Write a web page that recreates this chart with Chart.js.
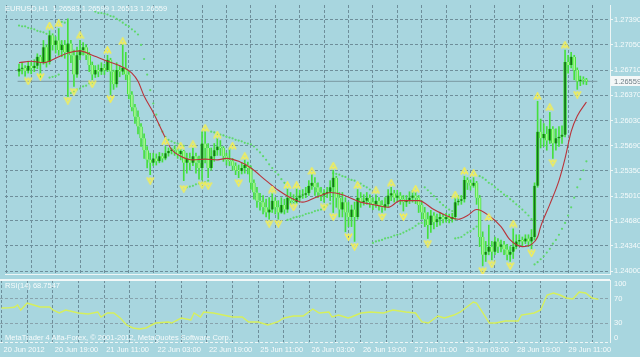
<!DOCTYPE html>
<html>
<head>
<meta charset="utf-8">
<script src="https://cdn.jsdelivr.net/npm/chart.js@4.4.1/dist/chart.umd.min.js"></script>
<style>
  body { margin: 0; background: #a8d6df; }
  #wrap { position: relative; width: 640px; height: 357px; overflow: hidden; background: #a8d6df; }
  canvas { position: absolute; left: 0; }
  .txt { position: absolute; color: #f6fbfb; font: 7.5px "Liberation Sans", sans-serif; line-height: 10px; white-space: pre; }
</style>
</head>
<body>
<div id="wrap">
  <canvas id="main" width="640" height="279" style="top:0"></canvas>
  <canvas id="rsi" width="640" height="78" style="top:279px"></canvas>
  <div class="txt" style="left:5px;top:4px">EURUSD,H1  1.26583 1.26599 1.26513 1.26559</div>
  <div class="txt" style="left:5px;top:281px">RSI(14) 68.7547</div>
  <div class="txt" style="left:5px;top:333px">MetaTrader 4 Alfa-Forex, © 2001-2012, MetaQuotes Software Corp.</div>
</div>
<script>
// hourly bars, 20 Jun 2012 03:00 .. 29 Jun 2012
const opens = [
  1.2669,1.2673,1.2674,1.2670,1.2677,1.2674,1.2677,1.2689,1.2681,1.2702,
  1.2682,1.2718,1.2705,1.2711,1.2698,1.2705,1.2695,1.2707,1.2691,1.2665,
  1.2691,1.2698,1.2702,1.2691,1.2678,1.2665,1.2671,1.2669,1.2674,1.2671,
  1.2685,1.2669,1.2652,1.2671,1.2669,1.2674,1.2665,1.2638,1.2621,1.2608,
  1.2595,1.2579,1.2563,1.2550,1.2546,1.2552,1.2548,1.2555,1.2552,1.2559,
  1.2562,1.2564,1.2563,1.2558,1.2562,1.2546,1.2552,1.2546,1.2555,1.2546,
  1.2539,1.2572,1.2566,1.2539,1.2555,1.2563,1.2568,1.2566,1.2555,1.2550,
  1.2548,1.2542,1.2536,1.2535,1.2539,1.2543,1.2539,1.2519,1.2506,1.2495,
  1.2493,1.2486,1.2479,1.2483,1.2495,1.2486,1.2479,1.2489,1.2483,1.2499,
  1.2495,1.2493,1.2499,1.2502,1.2503,1.2505,1.2515,1.2519,1.2513,1.2506,
  1.2502,1.2505,1.2507,1.2513,1.2526,1.2499,1.2483,1.2493,1.2479,1.2473,
  1.2483,1.2473,1.2499,1.2493,1.2495,1.2499,1.2493,1.2490,1.2495,1.2489,
  1.2486,1.2490,1.2502,1.2505,1.2499,1.2502,1.2497,1.2493,1.2495,1.2499,
  1.2502,1.2499,1.2489,1.2479,1.2470,1.2462,1.2475,1.2466,1.2470,1.2473,
  1.2470,1.2473,1.2470,1.2473,1.2493,1.2495,1.2497,1.2523,1.2519,1.2515,
  1.2519,1.2499,1.2446,1.2422,1.2426,1.2433,1.2426,1.2440,1.2433,1.2436,
  1.2429,1.2422,1.2426,1.2433,1.2440,1.2442,1.2440,1.2444,1.2440,1.2446,
  1.2515,1.2588,1.2579,1.2585,1.2576,1.2592,1.2572,1.2579,1.2581,1.2584,
  1.2682,1.2678,1.2689,1.2671,1.2656,1.2658,1.26583
];
const highs = [
  1.2679,1.2681,1.2677,1.2683,1.2682,1.2685,1.2693,1.2691,1.2711,1.2705,
  1.2724,1.2720,1.2716,1.2727,1.2711,1.2711,1.2740,1.2711,1.2698,1.2702,
  1.2711,1.2708,1.2705,1.2695,1.2682,1.2677,1.2678,1.2681,1.2679,1.2691,
  1.2687,1.2671,1.2681,1.2677,1.2705,1.2695,1.2669,1.2642,1.2625,1.2616,
  1.2599,1.2585,1.2568,1.2559,1.2559,1.2558,1.2560,1.2559,1.2568,1.2566,
  1.2566,1.2569,1.2566,1.2564,1.2563,1.2559,1.2559,1.2566,1.2559,1.2555,
  1.2588,1.2589,1.2572,1.2566,1.2572,1.2579,1.2576,1.2568,1.2559,1.2566,
  1.2552,1.2546,1.2543,1.2546,1.2550,1.2547,1.2542,1.2523,1.2513,1.2505,
  1.2502,1.2497,1.2499,1.2505,1.2499,1.2495,1.2499,1.2497,1.2511,1.2506,
  1.2503,1.2511,1.2509,1.2510,1.2513,1.2522,1.2530,1.2526,1.2519,1.2513,
  1.2510,1.2513,1.2522,1.2536,1.2528,1.2506,1.2506,1.2499,1.2493,1.2489,
  1.2493,1.2510,1.2506,1.2503,1.2506,1.2503,1.2499,1.2503,1.2499,1.2495,
  1.2499,1.2510,1.2513,1.2509,1.2509,1.2506,1.2502,1.2502,1.2507,1.2509,
  1.2506,1.2502,1.2495,1.2486,1.2479,1.2482,1.2479,1.2477,1.2479,1.2477,
  1.2478,1.2477,1.2478,1.2499,1.2502,1.2502,1.2528,1.2526,1.2523,1.2526,
  1.2521,1.2502,1.2453,1.2440,1.2462,1.2440,1.2446,1.2444,1.2442,1.2440,
  1.2436,1.2433,1.2457,1.2449,1.2449,1.2446,1.2449,1.2449,1.2456,1.2519,
  1.2629,1.2605,1.2599,1.2595,1.2614,1.2595,1.2592,1.2595,1.2596,1.2698,
  1.2691,1.2695,1.2691,1.2674,1.2663,1.2662,1.26599
];
const lows = [
  1.2663,1.2666,1.2663,1.2667,1.2666,1.2669,1.2673,1.2661,1.2679,1.2675,
  1.2679,1.2698,1.2694,1.2691,1.2689,1.2687,1.2636,1.2681,1.2649,1.2661,
  1.2685,1.2691,1.2685,1.2669,1.2658,1.2661,1.2662,1.2665,1.2665,1.2669,
  1.2638,1.2645,1.2648,1.2662,1.2665,1.2658,1.2632,1.2616,1.2599,1.2585,
  1.2568,1.2552,1.2539,1.2530,1.2542,1.2543,1.2546,1.2547,1.2550,1.2555,
  1.2558,1.2556,1.2552,1.2550,1.2522,1.2532,1.2536,1.2542,1.2532,1.2524,
  1.2523,1.2546,1.2526,1.2536,1.2548,1.2556,1.2556,1.2548,1.2543,1.2542,
  1.2536,1.2530,1.2526,1.2531,1.2532,1.2531,1.2510,1.2497,1.2486,1.2482,
  1.2477,1.2473,1.2470,1.2479,1.2477,1.2470,1.2478,1.2477,1.2479,1.2490,
  1.2491,1.2491,1.2495,1.2498,1.2499,1.2502,1.2510,1.2502,1.2499,1.2495,
  1.2493,1.2499,1.2495,1.2479,1.2486,1.2473,1.2473,1.2453,1.2460,1.2460,
  1.2440,1.2470,1.2486,1.2489,1.2490,1.2486,1.2483,1.2486,1.2482,1.2479,
  1.2482,1.2486,1.2495,1.2493,1.2494,1.2490,1.2481,1.2487,1.2491,1.2493,
  1.2491,1.2479,1.2470,1.2460,1.2444,1.2452,1.2457,1.2460,1.2462,1.2465,
  1.2466,1.2465,1.2466,1.2469,1.2489,1.2490,1.2493,1.2510,1.2509,1.2513,
  1.2490,1.2433,1.2407,1.2413,1.2422,1.2415,1.2422,1.2425,1.2426,1.2422,
  1.2415,1.2413,1.2417,1.2430,1.2436,1.2433,1.2437,1.2433,1.2430,1.2442,
  1.2513,1.2566,1.2568,1.2563,1.2572,1.2552,1.2563,1.2568,1.2572,1.2581,
  1.2667,1.2674,1.2658,1.2645,1.2650,1.2652,1.26513
];
const closes = [
  1.2673,1.2674,1.2670,1.2677,1.2674,1.2677,1.2689,1.2681,1.2702,1.2682,
  1.2718,1.2705,1.2711,1.2698,1.2705,1.2695,1.2707,1.2691,1.2665,1.2691,
  1.2698,1.2702,1.2691,1.2678,1.2665,1.2671,1.2669,1.2674,1.2671,1.2685,
  1.2669,1.2652,1.2671,1.2669,1.2674,1.2665,1.2638,1.2621,1.2608,1.2595,
  1.2579,1.2563,1.2550,1.2546,1.2552,1.2548,1.2555,1.2552,1.2559,1.2562,
  1.2564,1.2563,1.2558,1.2562,1.2546,1.2552,1.2546,1.2555,1.2546,1.2539,
  1.2572,1.2566,1.2539,1.2555,1.2563,1.2568,1.2566,1.2555,1.2550,1.2548,
  1.2542,1.2536,1.2535,1.2539,1.2543,1.2539,1.2519,1.2506,1.2495,1.2493,
  1.2486,1.2479,1.2483,1.2495,1.2486,1.2479,1.2489,1.2483,1.2499,1.2495,
  1.2493,1.2499,1.2502,1.2503,1.2505,1.2515,1.2519,1.2513,1.2506,1.2502,
  1.2505,1.2507,1.2513,1.2526,1.2499,1.2483,1.2493,1.2479,1.2473,1.2483,
  1.2473,1.2499,1.2493,1.2495,1.2499,1.2493,1.2490,1.2495,1.2489,1.2486,
  1.2490,1.2502,1.2505,1.2499,1.2502,1.2497,1.2493,1.2495,1.2499,1.2502,
  1.2499,1.2489,1.2479,1.2470,1.2462,1.2475,1.2466,1.2470,1.2473,1.2470,
  1.2473,1.2470,1.2473,1.2493,1.2495,1.2497,1.2523,1.2519,1.2515,1.2519,
  1.2499,1.2446,1.2422,1.2426,1.2433,1.2426,1.2440,1.2433,1.2436,1.2429,
  1.2422,1.2426,1.2433,1.2440,1.2442,1.2440,1.2444,1.2440,1.2446,1.2515,
  1.2588,1.2579,1.2585,1.2576,1.2592,1.2572,1.2579,1.2581,1.2584,1.2682,
  1.2678,1.2689,1.2671,1.2656,1.2658,1.2658,1.26559
];

// moving average (red line), read at these bars
const maBars = [0,4,8,12,16,20,24,29,34,37,39,41,44,47,50,53,57,61,65,68,
  72,76,81,85,89,93,97,99,102,106,112,117,121,125,131,136,140,144,147,150,
  154,158,161,165,168,170,171,174,177,179,181,183,186];
const maValues = [1.2681,1.2683,1.2681,1.2687,1.2694,1.2697,1.2691,1.2683,1.2675,1.2667,
  1.2656,1.2636,1.2614,1.2588,1.2564,1.2555,1.2550,1.2551,1.2550,1.2552,
  1.2548,1.2539,1.2522,1.2509,1.2499,1.2493,1.2499,1.2502,1.2506,1.2503,
  1.2493,1.2489,1.2486,1.2495,1.2495,1.2483,1.2475,1.2470,1.2475,1.2483,
  1.2475,1.2460,1.2442,1.2433,1.2436,1.2446,1.2460,1.2490,1.2522,1.2552,
  1.2588,1.2609,1.2628];

// parabolic SAR dots, one per bar
const sarValues = [
  1.2731,1.2730,1.2730,1.2728,1.2727,1.2726,1.2724,1.2723,1.2722,1.2720,
  1.2661,1.2662,1.2663,1.2665,1.2736,1.2735,
  1.2636,1.2640,1.2642,1.2645,1.2646,1.2649,1.2650,1.2653,1.2654,
  1.2750,1.2748,1.2748,1.2747,1.2746,1.2744,1.2743,1.2740,1.2738,1.2735,1.2732,1.2730,1.2726,1.2723,1.2719,
  1.2705,1.2686,1.2665,1.2644,1.2626,1.2611,1.2597,1.2588,1.2581,1.2577,1.2575,1.2573,1.2572,1.2571,1.2569,
  1.2513,1.2514,1.2515,1.2517,1.2518,1.2519,1.2520,1.2522,
  1.2588,1.2587,1.2585,1.2584,1.2583,1.2581,1.2580,1.2579,1.2577,1.2576,1.2575,1.2573,1.2572,1.2571,
  1.2568,1.2564,1.2560,1.2555,1.2550,1.2544,1.2539,1.2534,1.2530,1.2524,1.2519,
  1.2469,1.2470,1.2472,1.2473,1.2474,1.2475,1.2477,1.2478,1.2479,1.2481,1.2482,1.2483,1.2486,1.2489,1.2491,
  1.2532,1.2531,1.2530,1.2528,1.2527,1.2524,1.2523,1.2522,1.2519,1.2518,1.2515,1.2513,1.2510,
  1.2438,1.2440,1.2441,1.2442,1.2444,1.2445,1.2446,1.2448,1.2449,1.2450,1.2452,1.2454,1.2456,1.2458,1.2461,1.2464,1.2465,
  1.2513,1.2509,1.2505,1.2501,1.2497,1.2493,1.2489,1.2486,1.2483,1.2481,
  1.2444,1.2445,1.2446,1.2449,1.2452,1.2454,1.2457,1.2460,
  1.2528,1.2526,1.2523,1.2519,1.2517,1.2513,1.2510,1.2507,1.2503,1.2501,1.2497,1.2494,1.2490,1.2487,1.2483,1.2479,1.2475,1.2470,
  1.2409,1.2412,1.2416,1.2420,1.2425,1.2430,1.2437,1.2442,1.2449,1.2457,1.2465,1.2475,1.2486,1.2499,1.2513,1.2524,1.2536,1.2548
];

// fractals
const upBars = [10,13,20,29,34,48,53,57,61,65,70,74,83,88,91,96,103,111,117,122,130,143,146,149,154,162,170,174,179];
const upPrices = [1.2731,1.2734,1.2718,1.2698,1.2710,1.2575,1.2569,1.2571,1.2593,1.2584,
  1.2569,1.2555,1.2510,1.2516,1.2516,1.2535,1.2542,1.2516,1.2509,1.2519,
  1.2511,1.2503,1.2535,1.2532,1.2473,1.2464,1.2636,1.2621,1.2705];
const downBars = [3,7,16,18,24,30,43,54,60,62,72,82,85,90,100,103,108,110,119,126,134,152,155,161,168,175,183];
const downPrices = [1.2656,1.2662,1.2630,1.2642,1.2652,1.2632,1.2522,1.2511,1.2516,1.2515,
  1.2519,1.2464,1.2464,1.2486,1.2486,1.2473,1.2446,1.2433,1.2473,1.2473,
  1.2437,1.2400,1.2409,1.2407,1.2424,1.2546,1.2638];

// RSI(14), read at these bars
const rsiBars = [0,2,4,5,6,8,10,12,15,16,18,20,24,27,30,31,33,35,37,39,
  41,43,45,48,52,53,56,59,60,62,63,66,69,72,75,77,80,83,86,88,
  91,94,97,99,102,103,105,108,109,112,115,119,122,126,129,131,133,136,138,141,
  143,145,147,148,150,152,154,157,161,162,166,168,170,172,174,176,178,180,182,184,186];
const rsiValues = [54.8,55,56,59.7,51.6,62.9,59.7,56.5,56.5,51.6,46.8,51.6,46.8,45.2,48.4,40.3,46.8,46.8,38.7,27.4,
  22.6,21.0,22.6,30.6,32.3,30.6,38.7,35.5,46.8,40.3,48.4,46.8,43.5,40.3,40.3,32.3,32.3,27.4,32.3,38.7,
  41.9,41.9,53.2,46.8,48.4,40.3,43.5,38.7,40.3,46.8,48.4,46.8,51.6,48.4,46.8,32.3,30.6,41.9,38.7,43.5,
  48.4,56.5,64.5,62.9,46.8,30.6,30.6,33.9,33.9,43.5,46.8,51.6,75.8,79.0,75.8,71.0,69.4,80.6,79.0,71.0,68.75];

const priceTicks = [1.2400,1.2434,1.2468,1.2501,1.2535,1.2569,1.2603,1.2637,1.2671,1.2705,1.2739];
const timeLabels = ["20 Jun 2012","20 Jun 19:00","21 Jun 11:00","22 Jun 03:00","22 Jun 19:00","25 Jun 11:00",
  "26 Jun 03:00","26 Jun 19:00","27 Jun 11:00","28 Jun 03:00","28 Jun 19:00","29 Jun 11:00"];

const X_MIN = -0.467, X_MAX = 189.6;
const gridColor = "#6e8e9a";
const gridDash = [3, 2];
const font = { family: "Liberation Sans", size: 7.5, lineHeight: 1 };

Chart.defaults.color = "#f6fbfb";
Chart.defaults.font.family = "Liberation Sans";

function arrowImage(up) {
  const c = document.createElement("canvas");
  c.width = 9; c.height = 8;
  const g = c.getContext("2d");
  g.strokeStyle = "#efec5c";
  g.lineWidth = 1.6;
  g.beginPath();
  if (up) {
    g.moveTo(1, 7.5); g.lineTo(4.5, 1); g.lineTo(8, 7.5);
    g.moveTo(2.8, 4.8); g.lineTo(4.5, 6.8); g.lineTo(6.2, 4.8);
  } else {
    g.moveTo(1, 0.5); g.lineTo(4.5, 7); g.lineTo(8, 0.5);
    g.moveTo(2.8, 3.2); g.lineTo(4.5, 1.2); g.lineTo(6.2, 3.2);
  }
  g.stroke();
  return c;
}

const barIdx = closes.map((c, i) => i);
const bullColor = "#15701a", bearColor = "#a6f794", lineGreen = "#45e03d";

const xGridTicks = scale => {
  scale.ticks = [];
  for (let v = 0; v <= 186; v += 8) scale.ticks.push({ value: v });
};

const bidLabel = {
  id: "bidLabel",
  afterDraw(chart) {
    const last = closes[closes.length - 1];
    const y = chart.scales.y.getPixelForValue(last);
    const ctx = chart.ctx;
    ctx.save();
    ctx.fillStyle = "#f4f8f8";
    ctx.fillRect(chart.chartArea.right + 1, Math.round(y) - 5, 30, 10);
    ctx.fillStyle = "#6d7e86";
    ctx.font = '7.5px "Liberation Sans"';
    ctx.textBaseline = "middle";
    ctx.fillText(last.toFixed(5), chart.chartArea.right + 4, y + 0.5);
    ctx.restore();
  }
};

new Chart(document.getElementById("main"), {
  type: "bar",
  data: {
    datasets: [
      {
        type: "line", order: 7,
        data: [{ x: X_MIN, y: closes[closes.length - 1] }, { x: X_MAX, y: closes[closes.length - 1] }],
        borderColor: "#7a97a1", borderWidth: 1, pointRadius: 0
      },
      {
        type: "line", order: 6,
        data: sarValues.map((v, i) => ({ x: i, y: v })),
        showLine: false, pointRadius: 1.1, pointBorderWidth: 0,
        pointBackgroundColor: "#5fd86c"
      },
      {
        order: 5, grouped: false, barThickness: 1,
        data: barIdx.map(i => ({ x: i, y: [lows[i], highs[i]] })),
        backgroundColor: lineGreen
      },
      {
        order: 4, grouped: false, barThickness: 3, minBarLength: 1,
        data: barIdx.map(i => ({ x: i, y: [opens[i], closes[i]] })),
        backgroundColor: barIdx.map(i => closes[i] > opens[i] ? bullColor : bearColor),
        borderColor: lineGreen,
        borderWidth: { left: 1, right: 1, top: 0, bottom: 0 },
        borderSkipped: false
      },
      {
        type: "line", order: 3,
        data: maBars.map((b, k) => ({ x: b, y: maValues[k] })),
        borderColor: "#b9333a", borderWidth: 1.1, pointRadius: 0,
        cubicInterpolationMode: "monotone"
      },
      {
        type: "line", order: 2, showLine: false,
        data: upBars.map((b, k) => ({ x: b, y: upPrices[k] })),
        pointStyle: arrowImage(true)
      },
      {
        type: "line", order: 1, showLine: false,
        data: downBars.map((b, k) => ({ x: b, y: downPrices[k] })),
        pointStyle: arrowImage(false)
      }
    ]
  },
  options: {
    responsive: false,
    animation: false,
    devicePixelRatio: 1,
    events: [],
    layout: { padding: { top: 4, bottom: 1, left: 0, right: 0 } },
    plugins: { legend: { display: false }, tooltip: { enabled: false } },
    scales: {
      x: {
        type: "linear", min: X_MIN, max: X_MAX,
        afterBuildTicks: xGridTicks,
        afterFit: s => { s.height = 0; s.paddingLeft = 0; s.paddingRight = 0; },
        ticks: { display: false },
        grid: { color: gridColor, drawTicks: false },
        border: { display: true, color: "#eef6f6", width: 1, dash: gridDash }
      },
      y: {
        position: "right", min: 1.23961, max: 1.27588,
        afterBuildTicks: s => { s.ticks = priceTicks.map(v => ({ value: v })); },
        afterFit: s => { s.width = 30; s.paddingTop = 0; s.paddingBottom = 0; },
        ticks: { font, padding: 1, callback: v => v.toFixed(5) },
        grid: { color: gridColor, tickLength: 3, tickColor: "#eef6f6" },
        border: { display: true, color: "#eef6f6", width: 1, dash: gridDash }
      }
    }
  },
  plugins: [bidLabel]
});

const rsiY = v => v === 93.5 ? "100" : v === 6.5 ? "0" : (v === 30 || v === 70) ? String(v) : "";

new Chart(document.getElementById("rsi"), {
  type: "line",
  data: {
    datasets: [{
      data: rsiBars.map((b, k) => ({ x: b, y: rsiValues[k] })),
      borderColor: "#d6ef5c", borderWidth: 1.4, pointRadius: 0, tension: 0
    }]
  },
  options: {
    responsive: false,
    animation: false,
    devicePixelRatio: 1,
    events: [],
    layout: { padding: { top: 1, bottom: 0, left: 0, right: 0 } },
    plugins: { legend: { display: false }, tooltip: { enabled: false } },
    scales: {
      x: {
        type: "linear", min: X_MIN, max: X_MAX,
        afterBuildTicks: xGridTicks,
        afterFit: s => { s.height = 15; s.paddingLeft = 0; s.paddingRight = 0; },
        ticks: {
          font, padding: 4, align: "start", labelOffset: 2, autoSkip: false, maxRotation: 0,
          callback: v => v % 16 === 0 ? timeLabels[v / 16] : ""
        },
        grid: { color: gridColor, drawTicks: false },
        border: { display: false, dash: gridDash }
      },
      y: {
        position: "right", min: 0, max: 100,
        afterBuildTicks: s => { s.ticks = [0, 6.5, 30, 70, 93.5, 100].map(v => ({ value: v })); },
        afterFit: s => { s.width = 30; s.paddingTop = 0; s.paddingBottom = 0; },
        ticks: { font, padding: 4, callback: rsiY },
        grid: {
          drawTicks: false,
          color: c => {
            const v = c.tick && c.tick.value;
            if (v === 100) return "#f2f8f8";
            if (v === 0) return "#eef6f6";
            if (v === 30 || v === 70) return "#88a3ad";
            return "rgba(0,0,0,0)";
          },
          lineWidth: c => (c.tick && c.tick.value === 100) ? 2 : 1
        },
        border: {
          display: true, color: "#eef6f6", width: 1,
          dash: c => (c.tick && c.tick.value === 100) ? [] : gridDash
        }
      }
    }
  }
});
</script>
</body>
</html>
